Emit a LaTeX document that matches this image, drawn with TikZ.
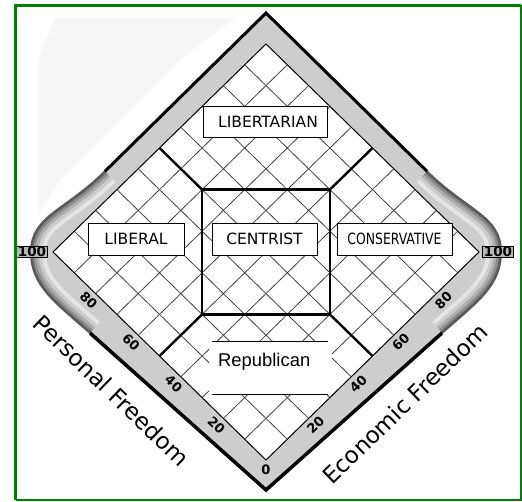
\documentclass[tikz,border=0pt]{standalone}
\usepackage{fontspec}
\setmainfont{DejaVu Sans}
\newfontfamily\repfont{Liberation Sans}
\usepackage{tikz}
\usepackage{graphicx}
\definecolor{framegreen}{RGB}{0,128,0}
\definecolor{bandgray}{RGB}{205,205,205}

\begin{document}
\begin{tikzpicture}[x=1pt,y=1pt,
  region/.style={draw,fill=white,line width=.8pt,inner sep=0pt,font=\fontsize{15.5}{17}\selectfont},
  tick/.style={font=\bfseries\fontsize{13}{14}\selectfont,inner sep=0pt},
  endbox/.style={draw,fill=black!28,line width=.8pt,inner xsep=1.2pt,inner ysep=.6pt,font=\bfseries\fontsize{13.5}{14}\selectfont},
  axislabel/.style={font=\fontsize{23}{25}\selectfont,inner sep=0pt}]
 \useasboundingbox (0,0) rectangle (522,501);
 \fill[black!3] (55,483) -- (235,483) -- (180,441) -- (60,321) -- (38,286) -- (38,441) -- cycle;
 \begin{scope}[even odd rule]
  \fill[bandgray] (266,488) -- (105,329.7) .. controls (65,290) and (31,285) .. (31,249)
   .. controls (31,215) and (55,199) .. (90,168) -- (266,11) -- (442,168)
   .. controls (477,199) and (501,215) .. (501,249) .. controls (501,285) and (467,290) .. (427,329.7) -- cycle
   (266,457) -- (53,249) -- (266,41) -- (479,249) -- cycle;
  \clip (266,488) -- (105,329.7) .. controls (65,290) and (31,285) .. (31,249)
   .. controls (31,215) and (55,199) .. (90,168) -- (266,11) -- (442,168)
   .. controls (477,199) and (501,215) .. (501,249) .. controls (501,285) and (467,290) .. (427,329.7) -- cycle
   (266,457) -- (53,249) -- (266,41) -- (479,249) -- cycle;
  \foreach \w/\c in {30/10,22/20,15/32,9/45,4/60} {
   \draw[line width=\w pt,black!\c] (105,329.7) .. controls (65,290) and (31,285) .. (31,249)
    .. controls (31,215) and (55,199) .. (90,168);
   \draw[line width=\w pt,black!\c] (427,329.7) .. controls (467,290) and (501,285) .. (501,249)
    .. controls (501,215) and (477,199) .. (442,168);
  }
 \end{scope}
 \draw[line width=2pt,black!65] (105,329.7) .. controls (65,290) and (31,285) .. (31,249)
  .. controls (31,215) and (55,199) .. (90,168);
 \draw[line width=2pt,black!65] (427,329.7) .. controls (467,290) and (501,285) .. (501,249)
  .. controls (501,215) and (477,199) .. (442,168);
 \draw[line width=3pt] (105,329.7) -- (266,488) -- (427,329.7);
 \draw[line width=3.5pt] (90,168) -- (266,11) -- (442,168);
 \begin{scope}[shift={(266,41)},x={(21.3pt,20.8pt)},y={(-21.3pt,20.8pt)}]
  \foreach \i in {1,...,9} {
   \draw[black!75,line width=.8pt] (\i,0) -- (\i,10);
   \draw[black!75,line width=.8pt] (0,\i) -- (10,\i);
  }
  \draw[line width=1pt] (0,0) -- (10,0) -- (10,10) -- (0,10) -- cycle;
  \draw[line width=2.4pt] (5,8) -- (8,5) -- (5,2) -- (2,5) -- cycle;
  \foreach \a/\b/\c/\d in {5/10/5/8,10/5/8/5,5/0/5/2,0/5/2/5}
   \draw[line width=2.4pt] (\a,\b) -- (\c,\d);
  \foreach \k in {2,4,6,8} {
   \pgfmathtruncatemacro\val{10*\k}
   \node[tick,rotate=-44.3] (pf\k) at (-.33,\k) {\val};
   \node[tick,rotate=44.3] (ef\k) at (\k,-.33) {\val};
  }
  \node[tick] (zero) at (-.24,-.24) {0};
 \end{scope}
 \node[endbox] (pfmax) at (32,249) {100};
 \node[endbox] (efmax) at (498,249) {100};
 \node[region,minimum width=124pt,minimum height=31pt] (libertarian) at (265,379.5) {\hspace{6pt}LIBERTARIAN};
 \node[region,minimum width=96pt,minimum height=32pt] (liberal) at (136,262) {LIBERAL};
 \node[region,minimum width=105pt,minimum height=32pt] (centrist) at (264.5,262) {CENTRIST};
 \node[region,minimum width=115pt,minimum height=32pt] (conservative) at (394.5,262) {\scalebox{.8}[1]{CONSERVATIVE}};
 \fill[white] (209,107) rectangle (332,160);
 \draw[line width=.8pt] (212,160) -- (328,160) (212,107) -- (328,107);
 \node[anchor=base west,inner sep=0pt,font=\repfont\fontsize{18.4}{20}\selectfont] (republican) at (218,135) {Republican};
 \node[axislabel,rotate=-44] (personal) at (111.5,110.5) {Personal Freedom};
 \node[axislabel,rotate=44] (economic) at (405,97.5) {Economic Freedom};
 \draw[framegreen,line width=3pt] (15.5,1.5) -- (15.5,495.5) -- (520.7,495.5);
 \draw[framegreen,line width=2pt] (15.5,1.5) -- (520.7,1.5) -- (520.7,495.5);
\end{tikzpicture}
\end{document}
